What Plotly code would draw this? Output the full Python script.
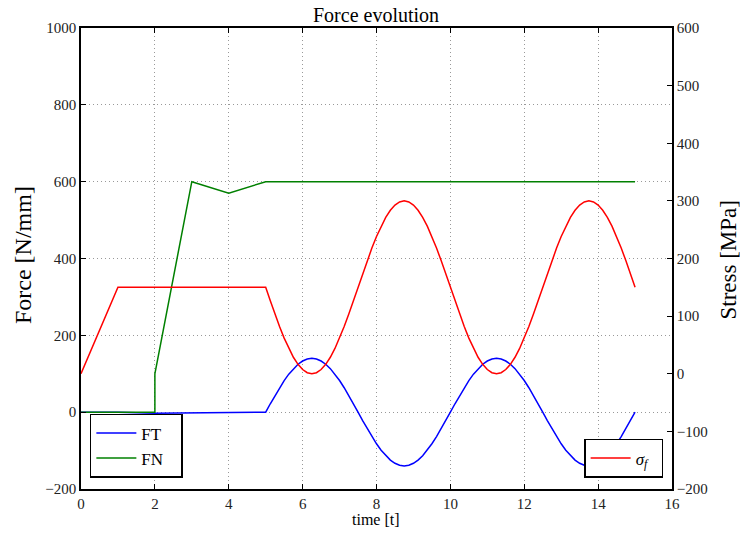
import plotly.graph_objects as go

# ---- data ----
t_pre = [0, 1, 2, 3, 4]
t_osc = [5 + 0.125 * i for i in range(81)]

ft_pre = [0, 0, -3, -2, -1]
ft_osc = [0, 21.9, 43.3, 63.6, 82.3, 99.0, 113.3, 124.7, 133.1, 138.3, 140,
          138.3, 133.1, 124.7, 113.3, 99.0, 82.3, 63.6, 43.3, 21.9, 0,
          -21.9, -43.3, -63.6, -82.3, -99.0, -113.3, -124.7, -133.1, -138.3, -140,
          -138.3, -133.1, -124.7, -113.3, -99.0, -82.3, -63.6, -43.3, -21.9,
          0, 21.9, 43.3, 63.6, 82.3, 99.0, 113.3, 124.7, 133.1, 138.3, 140,
          138.3, 133.1, 124.7, 113.3, 99.0, 82.3, 63.6, 43.3, 21.9, 0,
          -21.9, -43.3, -63.6, -82.3, -99.0, -113.3, -124.7, -133.1, -138.3, -140,
          -138.3, -133.1, -124.7, -113.3, -99.0, -82.3, -63.6, -43.3, -21.9, 0]

fn_t = [0, 1, 2, 2, 3, 4, 5, 15]
fn_vals = [0, 0, 0, 100, 600, 570, 600, 600]

sig_pre_t = [0, 1, 2, 3, 4]
sig_pre = [0, 150, 150, 150, 150]
sig_osc = [150, 126.5, 103.6, 81.9, 61.8, 43.9, 28.6, 16.4, 7.3, 1.8, 0,
           1.8, 7.3, 16.4, 28.6, 43.9, 61.8, 81.9, 103.6, 126.5, 150,
           173.5, 196.4, 218.1, 238.2, 256.1, 271.4, 283.6, 292.7, 298.2, 300,
           298.2, 292.7, 283.6, 271.4, 256.1, 238.2, 218.1, 196.4, 173.5,
           150, 126.5, 103.6, 81.9, 61.8, 43.9, 28.6, 16.4, 7.3, 1.8, 0,
           1.8, 7.3, 16.4, 28.6, 43.9, 61.8, 81.9, 103.6, 126.5, 150,
           173.5, 196.4, 218.1, 238.2, 256.1, 271.4, 283.6, 292.7, 298.2, 300,
           298.2, 292.7, 283.6, 271.4, 256.1, 238.2, 218.1, 196.4, 173.5, 150]

x_ticks = [0, 2, 4, 6, 8, 10, 12, 14, 16]
y_ticks = [-200, 0, 200, 400, 600, 800, 1000]
y2_ticks = [-200, -100, 0, 100, 200, 300, 400, 500, 600]

FONT = "Liberation Serif"
NB = "\u00a0"

fig = go.Figure()
fig.add_trace(go.Scatter(x=t_pre + t_osc, y=ft_pre + ft_osc, mode="lines", name="FT" + NB * 3,
                         line=dict(color="#0000ff", width=1.5), legend="legend"))
fig.add_trace(go.Scatter(x=fn_t, y=fn_vals, mode="lines", name="FN" + NB * 3,
                         line=dict(color="#008000", width=1.5), legend="legend"))
fig.add_trace(go.Scatter(x=sig_pre_t + t_osc, y=sig_pre + sig_osc, mode="lines",
                         name="<i>σ<sub>f</sub></i>" + NB * 2, yaxis="y2",
                         line=dict(color="#ff0000", width=1.5), legend="legend2"))

axis_common = dict(showline=True, linecolor="black", linewidth=1.5, ticks="inside",
                   ticklen=5, tickcolor="black", automargin=False,
                   tickfont=dict(family=FONT, size=15, color="#222"),
                   zeroline=False)

grid = dict(showgrid=True, gridcolor="#999999", griddash="1px,3px", gridwidth=1)

fig.update_layout(
    width=740, height=533,
    margin=dict(l=81, r=68, t=28, b=44),
    paper_bgcolor="white", plot_bgcolor="white",
    font=dict(family=FONT, color="black"),
    xaxis=dict(range=[0, 16], tickvals=x_ticks, mirror="ticks", **grid, **axis_common),
    yaxis=dict(range=[-200, 1000], tickvals=y_ticks, mirror=True, **grid, **axis_common),
    yaxis2=dict(range=[-200, 600], tickvals=y2_ticks, overlaying="y", side="right",
                showgrid=False, **axis_common),
    legend=dict(x=0.015, y=0.024, xanchor="left", yanchor="bottom",
                bordercolor="black", borderwidth=1.5, bgcolor="white", itemwidth=40,
                font=dict(family=FONT, size=17, color="black")),
    legend2=dict(x=0.985, y=0.024, xanchor="right", yanchor="bottom",
                 bordercolor="black", borderwidth=1.5, bgcolor="white", itemwidth=40,
                 font=dict(family=FONT, size=17, color="black")),
    annotations=[
        dict(text="Force evolution", xref="paper", yref="paper", x=0.499, y=1.028,
             xanchor="center", yanchor="middle", showarrow=False,
             font=dict(family=FONT, size=20, color="black")),
        dict(text="Force [N/mm]", xref="paper", yref="paper", x=-0.098, y=0.5076,
             xanchor="center", yanchor="middle", showarrow=False, textangle=-90,
             font=dict(family=FONT, size=24, color="black")),
        dict(text="Stress [MPa]", xref="paper", yref="paper", x=1.0948, y=0.4957,
             xanchor="center", yanchor="middle", showarrow=False, textangle=-90,
             font=dict(family=FONT, size=23, color="black")),
        dict(text="time [t]", xref="paper", yref="paper", x=0.499, y=-0.067,
             xanchor="center", yanchor="middle", showarrow=False,
             font=dict(family=FONT, size=16, color="black")),
    ],
)

fig.write_html("out.html", config={"displayModeBar": False},
               post_script="document.body.style.margin='0';")
